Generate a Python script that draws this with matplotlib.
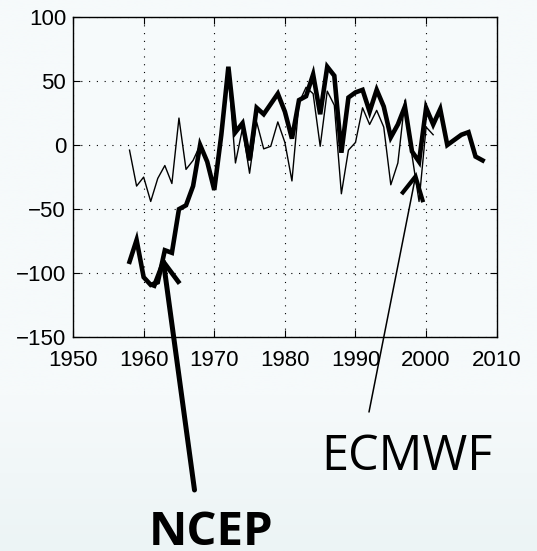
import numpy as np
import matplotlib
matplotlib.use("Agg")
import matplotlib.pyplot as plt
from matplotlib.colors import LinearSegmentedColormap

## data
years_ncep = list(range(1958, 2009))
ncep = [-91, -74, -103, -109, -107, -82, -84, -50, -47, -32,
        0, -13, -35, 8, 61, 10, 17, -12, 29, 24,
        32, 40, 26, 5, 35, 38, 55, 24, 61, 54,
        -6, 37, 41, 43, 26, 43, 30, 6, 16, 30,
        -5, -13, 29, 16, 28, 0, 4, 8, 10, -9,
        -12]

years_ecmwf = list(range(1958, 2002))
ecmwf = [-4, -32, -25, -44, -26, -16, -30, 21, -19, -12,
         0, -13, -35, 5, 55, -14, 13, -22, 18, -3,
         -1, 18, 2, -28, 33, 45, 40, -1, 42, 31,
         -38, -4, 2, 29, 16, 27, 14, -31, -14, 35,
         -8, -44, 14, 8]

xticks = [1950, 1960, 1970, 1980, 1990, 2000, 2010]
yticks = [-150, -100, -50, 0, 50, 100]

# arrows: tip and head arms in data units, tail in figure pixels
ncep_tip = (1962.8, -91)
ncep_arms = [(1961.5, -109.6), (1964.9, -106.5)]
ncep_tail = (194.5, 61)
ecmwf_tip = (1998.5, -24.5)
ecmwf_arms = [(1996.7, -37), (1999.5, -43)]
ecmwf_tail = (369, 139)

BG = "#f6fafb"
BG_LOW = "#ecf4f5"
tick_font = ["Liberation Sans", "DejaVu Sans"]

fig = plt.figure(figsize=(5.37, 5.51), dpi=100, facecolor=BG)

## soft slide background, a little darker near the bottom
bg = fig.add_axes([0, 0, 1, 1], zorder=-10)
bg.axis("off")
grad = np.clip((np.linspace(0, 1, 256) - 0.72) / 0.28, 0, 1).reshape(-1, 1)
bg.imshow(grad, aspect="auto", origin="upper", extent=[0, 1, 0, 1],
          cmap=LinearSegmentedColormap.from_list("slide", [BG, BG_LOW]),
          vmin=0, vmax=1)

ax = fig.add_axes([0.136, 0.3875, 0.789, 0.5822], facecolor=BG)

ax.plot(years_ecmwf, ecmwf, color="black", lw=1.0, zorder=3)
ax.plot(years_ncep, ncep, color="black", lw=3.3, zorder=4,
        solid_joinstyle="miter")

ax.set_xlim(1950, 2010)
ax.set_ylim(-150, 100)
ax.set_xticks(xticks)
ax.set_yticks(yticks)
ax.grid(True, color="black", lw=0.8, linestyle=(0, (1, 6)))
ax.tick_params(direction="in", top=True, right=True, length=5, width=0.8)
ax.tick_params(axis="x", pad=9)
ax.tick_params(axis="y", pad=5)
for lab in ax.get_xticklabels() + ax.get_yticklabels():
    lab.set_family(tick_font)
    lab.set_fontsize(16)
for sp in ax.spines.values():
    sp.set_linewidth(1.0)

## arrows
ax.annotate("", xy=ncep_tip, xycoords="data",
            xytext=ncep_tail, textcoords="figure pixels",
            arrowprops=dict(arrowstyle="-", lw=3.6, color="black",
                            shrinkA=0, shrinkB=0), annotation_clip=False)
ax.plot([ncep_arms[0][0], ncep_tip[0], ncep_arms[1][0]],
        [ncep_arms[0][1], ncep_tip[1], ncep_arms[1][1]],
        color="black", lw=3.4, clip_on=False, zorder=5,
        solid_joinstyle="miter")

ax.annotate("", xy=ecmwf_tip, xycoords="data",
            xytext=ecmwf_tail, textcoords="figure pixels",
            arrowprops=dict(arrowstyle="-", lw=1.1, color="black",
                            shrinkA=0, shrinkB=0), annotation_clip=False)
ax.plot([ecmwf_arms[0][0], ecmwf_tip[0], ecmwf_arms[1][0]],
        [ecmwf_arms[0][1], ecmwf_tip[1], ecmwf_arms[1][1]],
        color="black", lw=3.0, clip_on=False, zorder=5,
        solid_joinstyle="miter")

fig.text(211 / 537, 6 / 551, "NCEP", ha="center", va="baseline",
         fontsize=34, fontweight="bold", family=["Open Sans", "DejaVu Sans"])
fig.text(406.7 / 537, 81 / 551, "ECMWF", ha="center", va="baseline",
         fontsize=35, family=["Open Sans", "DejaVu Sans"])

fig.savefig("out.png", dpi=100, facecolor=BG)
